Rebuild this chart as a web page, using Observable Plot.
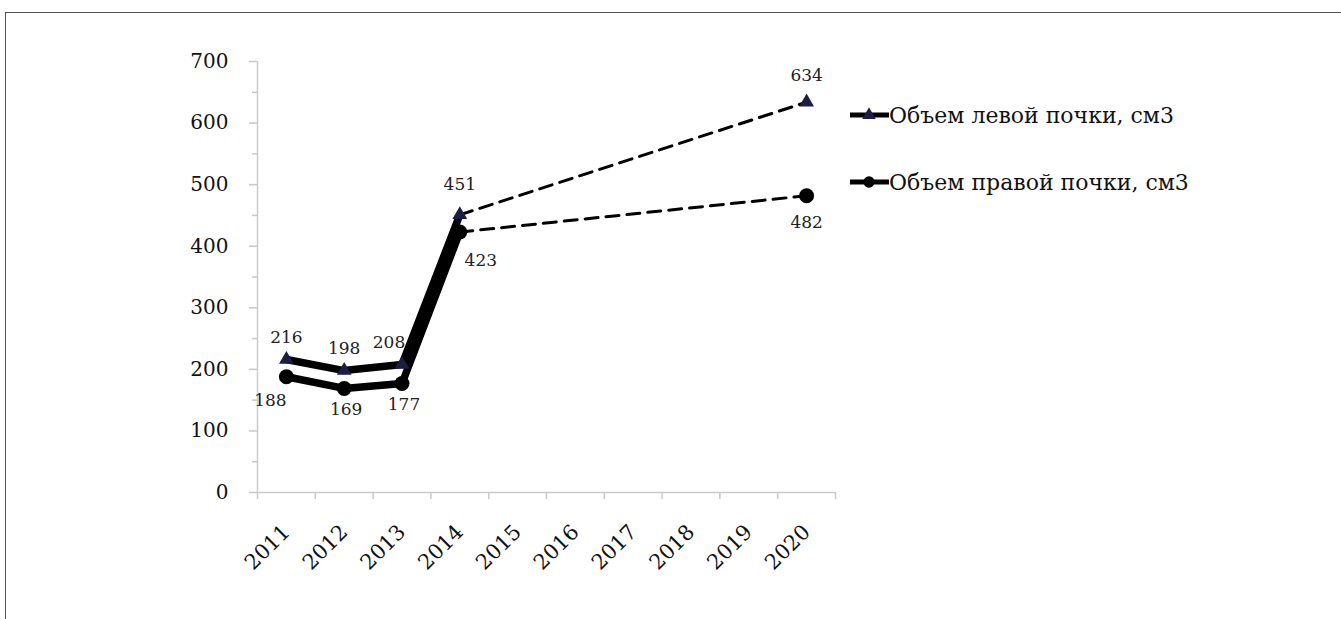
<!DOCTYPE html>
<html><head><meta charset="utf-8">
<script src="https://cdn.jsdelivr.net/npm/d3@7"></script>
<script src="https://cdn.jsdelivr.net/npm/@observablehq/plot@0.6"></script>
<style>
body{margin:0;background:#fff;}
#wrap{position:relative;width:1341px;height:619px;overflow:hidden;}
#frame{position:absolute;left:5px;top:12px;width:1400px;height:700px;border:1px solid #555;}
#chart{position:absolute;left:0;top:0;}
</style></head><body>
<div id="wrap"><div id="frame"></div><div id="chart"></div></div>
<script>
const years = [2011, 2012, 2013, 2014, 2015, 2016, 2017, 2018, 2019, 2020];
const seriesNames = ["Объем левой почки, см3", "Объем правой почки, см3"];
const leftVolume = [216, 198, 208, 451, null, null, null, null, null, 634];
const rightVolume = [188, 169, 177, 423, null, null, null, null, null, 482];
const yTicks = [0, 100, 200, 300, 400, 500, 600, 700];

const FONT = "DejaVu Serif";
const rows = (vals, name) => years.map((year, i) => ({year, value: vals[i], series: name})).filter(d => d.value != null);
const left = rows(leftVolume, seriesNames[0]);
const right = rows(rightVolume, seriesNames[1]);
const solid = arr => arr.filter(d => d.year <= 2014);
const dashed = arr => arr.filter(d => d.year >= 2014);
const minorTicks = d3.range(50, 700, 100);
const bandEdges = d3.range(years[0] - 0.5, years[years.length - 1] + 1, 1);
const blank = () => "";

function label(data, filt, dx, dy) {
  return Plot.text(data.filter(filt), {x: "year", y: "value", text: d => String(d.value), dx, dy,
    fontFamily: FONT, fontSize: 17, fill: "#222"});
}

const plot = Plot.plot({
  width: 1341, height: 619,
  marginLeft: 257, marginRight: 506, marginTop: 61, marginBottom: 127,
  x: {domain: [years[0] - 0.5, years[years.length - 1] + 0.5], axis: null},
  y: {domain: [0, 700], axis: null},
  style: {fontFamily: FONT, background: "transparent"},
  marks: [
    Plot.ruleY([0], {stroke: "#cccccc", strokeWidth: 1.5}),
    Plot.ruleX([years[0] - 0.5], {y1: 0, y2: 700, stroke: "#cccccc", strokeWidth: 1.5}),
    Plot.axisY({ticks: yTicks, tickSize: 8, tickFormat: blank, label: null, stroke: "#c8c8c8", strokeWidth: 1.5}),
    Plot.axisY({ticks: minorTicks, tickSize: 5, tickFormat: blank, label: null, stroke: "#c8c8c8", strokeWidth: 1.5}),
    Plot.axisY({ticks: yTicks, tickSize: 0, tickPadding: 29, label: null, fill: "#111", fontSize: 20, fontFamily: FONT}),
    Plot.axisX({ticks: bandEdges, tickSize: 7, tickFormat: blank, label: null, stroke: "#c8c8c8", strokeWidth: 1.5}),
    Plot.axisX({ticks: years, tickSize: 0, tickPadding: 36, tickRotate: -45, tickFormat: d => String(d), label: null,
      fill: "#111", fontSize: 21, fontFamily: FONT}),
    Plot.line(dashed(left), {x: "year", y: "value", stroke: "black", strokeWidth: 3, strokeDasharray: "13,8"}),
    Plot.line(dashed(right), {x: "year", y: "value", stroke: "black", strokeWidth: 3, strokeDasharray: "13,8"}),
    Plot.line(solid(left), {x: "year", y: "value", stroke: "black", strokeWidth: 7.5}),
    Plot.line(solid(right), {x: "year", y: "value", stroke: "black", strokeWidth: 7.5}),
    Plot.dot(left, {x: "year", y: "value", symbol: "triangle", r: 5.5, fill: "#1c1c44", stroke: "none"}),
    Plot.dot(right, {x: "year", y: "value", symbol: "circle", r: 7.5, fill: "black", stroke: "none"}),
    label(left, d => d.year === 2011 || d.year === 2012, 0, -22),
    label(left, d => d.year === 2013, -13, -22),
    label(left, d => d.year === 2014, 0, -30),
    label(left, d => d.year === 2020, 0, -27),
    label(right, d => d.year === 2011, -16, 24),
    label(right, d => d.year === 2012 || d.year === 2013, 2, 21),
    label(right, d => d.year === 2014, 21, 28),
    label(right, d => d.year === 2020, 0, 27)
  ]
});
document.getElementById("chart").appendChild(plot);

// legend
const svg = d3.select(plot);
const lg = svg.append("g");
const items = [{name: seriesNames[0], sym: d3.symbolTriangle, fill: "#1c1c44", size: 80, y: 115},
               {name: seriesNames[1], sym: d3.symbolCircle, fill: "black", size: 100, y: 182}];
items.forEach(it => {
  lg.append("line").attr("x1", 850).attr("x2", 889).attr("y1", it.y).attr("y2", it.y)
    .attr("stroke", "black").attr("stroke-width", 5);
  lg.append("path").attr("d", d3.symbol(it.sym, it.size)()).attr("transform", `translate(869,${it.y})`).attr("fill", it.fill);
  lg.append("text").attr("x", 889).attr("y", it.y).attr("dy", "0.35em").attr("font-family", FONT)
    .attr("text-anchor", "start").attr("font-size", 22).attr("fill", "#111").text(it.name);
});
</script>
</body></html>
